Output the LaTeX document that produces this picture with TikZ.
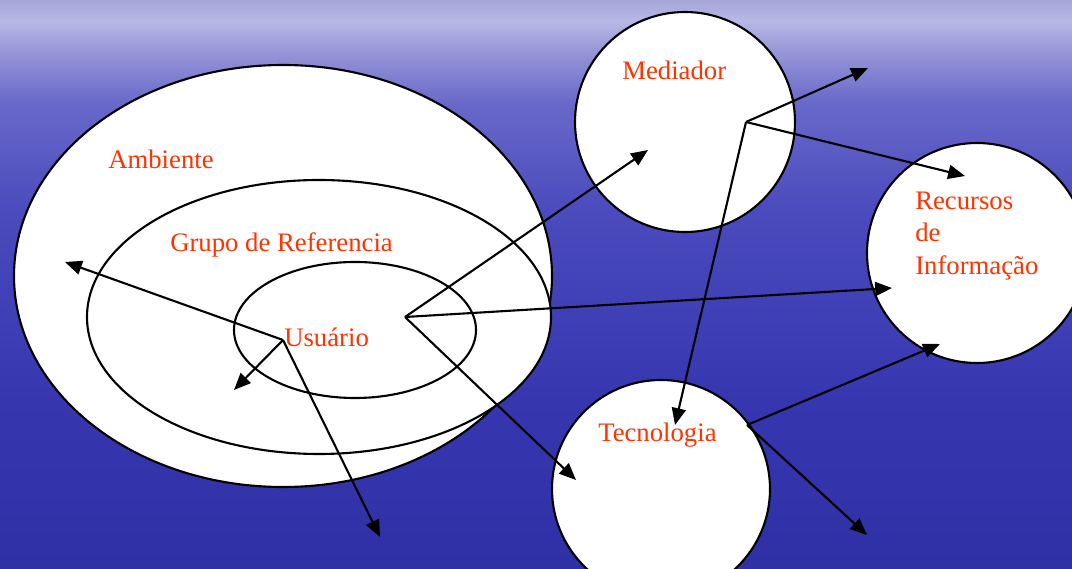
\documentclass[tikz,border=0pt]{standalone}
\usepackage{fontspec}
\setmainfont{Liberation Serif}
\usepackage{xcolor}
\usetikzlibrary{arrows.meta}

\definecolor{labelred}{RGB}{255,51,0}
\definecolor{seaA}{RGB}{48,48,165}
\definecolor{seaB}{RGB}{54,54,176}
\definecolor{seaC}{RGB}{76,76,190}
\definecolor{seaD}{RGB}{105,105,202}
\definecolor{seaE}{RGB}{150,150,216}
\definecolor{seaF}{RGB}{184,184,230}
\definecolor{seaG}{RGB}{165,165,216}

% visible part of the shading runs from 25bp (bottom) to 75bp (top)
\pgfdeclareverticalshading{seawater}{100bp}{color(0bp)=(seaA); color(25bp)=(seaA); color(40bp)=(seaB); color(57bp)=(seaC); color(66bp)=(seaD); color(70.5bp)=(seaE); color(73.2bp)=(seaF); color(75bp)=(seaG); color(100bp)=(seaG)}

\begin{document}
\begin{tikzpicture}[x = 0.025cm, y = -0.025cm,
		bubble/.style = {draw = black, line width = 1.5pt, fill = white},
		redtext/.style = {text = labelred, font = \fontsize{19}{22.8}\selectfont, anchor = base west, inner sep = 0pt},
		link/.style = {line width = 1.5pt, -{Triangle[length = 12pt, width = 10pt]}}]
					\def\wMAX{1072};
					\def\hMAX{569};

					\useasboundingbox (0,0) rectangle (\wMAX,\hMAX);
					\shade [shading = seawater] (0,0) rectangle (\wMAX,\hMAX);

					% the three nested ellipses
					\begin{scope}
						\draw [bubble] (283,276) ellipse [x radius = 269, y radius = 211];
						\draw [bubble] (319,317) ellipse [x radius = 232, y radius = 137];
						\draw [bubble] (355,330) ellipse [x radius = 121, y radius = 68];
					\end{scope}

					% the three circles
					\begin{scope}
						\draw [bubble] (685,122) circle [radius = 110];
						\draw [bubble] (977,253) circle [radius = 110];
						\draw [bubble] (661,489) circle [radius = 109];
					\end{scope}

					\begin{scope}
						\node [redtext] (ambiente) at (108,169) {Ambiente};
						\node [redtext] (grupo) at (170,252) {Grupo de Referencia};
						\node [redtext] (usuario) at (284,347) {Usuário};
						\node [redtext] (mediador) at (622,80) {Mediador};
						\node [redtext] (recursos) at (915,210) {Recursos};
						\node [redtext] (recursosde) at (915,242) {de};
						\node [redtext] (informacao) at (915,275) {Informação};
						\node [redtext] (tecnologia) at (598,442) {Tecnologia};
					\end{scope}

					\coordinate (userHub) at (283,340);
					\coordinate (groupHub) at (405,317);
					\coordinate (mediatorHub) at (746,122);
					\coordinate (techHub) at (747,425);

					\coordinate (toAmbiente) at (65,262);
					\coordinate (toUsuario) at (234,390);
					\coordinate (toBelow) at (380,537);
					\coordinate (toMediador) at (648,150);
					\coordinate (toRecursos) at (892,288);
					\coordinate (toTecnologia) at (576,480);
					\coordinate (toUpRight) at (868,68);
					\coordinate (toRecursosTop) at (965,176);
					\coordinate (toTecnologiaTop) at (675,425);
					\coordinate (toRecursosLow) at (940,344);
					\coordinate (toDownRight) at (867,535);

					\begin{scope}[link]
						\draw (userHub) -- (toAmbiente);
						\draw (userHub) -- (toUsuario);
						\draw (userHub) -- (toBelow);

						\draw (groupHub) -- (toMediador);
						\draw (groupHub) -- (toRecursos);
						\draw (groupHub) -- (toTecnologia);

						\draw (mediatorHub) -- (toUpRight);
						\draw (mediatorHub) -- (toRecursosTop);
						\draw (mediatorHub) -- (toTecnologiaTop);

						\draw (techHub) -- (toRecursosLow);
						\draw (techHub) -- (toDownRight);
					\end{scope}
				\end{tikzpicture}
\end{document}
